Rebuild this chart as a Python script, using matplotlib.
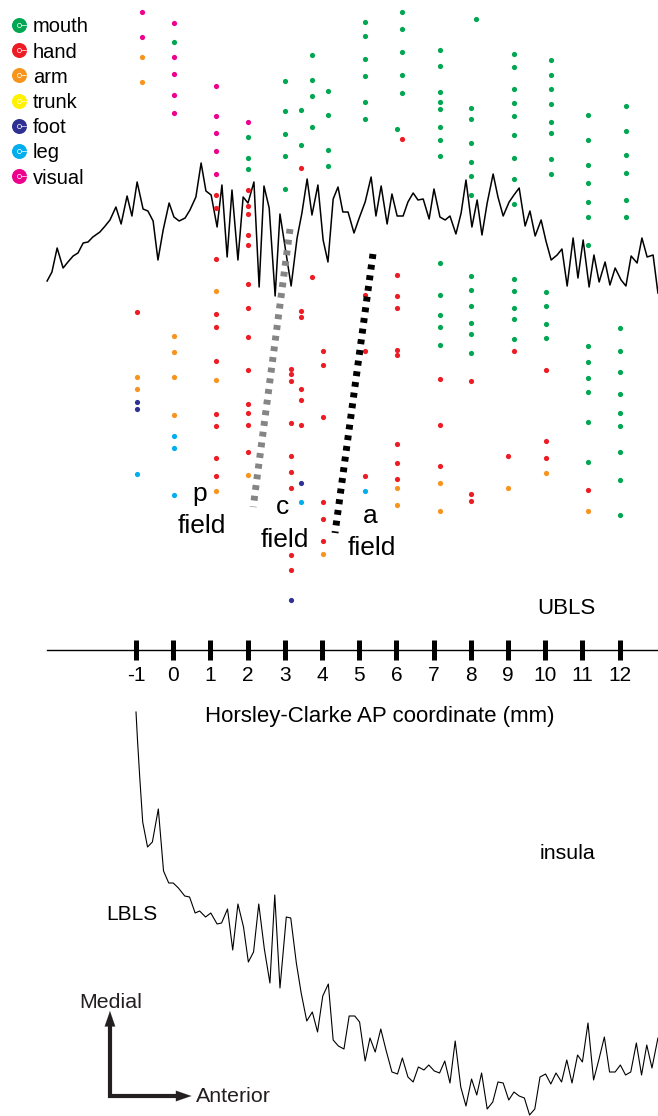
import matplotlib.pyplot as plt

plt.rcParams['font.family'] = ['Liberation Sans', 'DejaVu Sans']
plt.rcParams['axes.unicode_minus'] = False

# AP ticks along the Horsley-Clarke axis (mm)
ap_ticks = list(range(-1, 13))

categories = ['mouth', 'hand', 'arm', 'trunk', 'foot', 'leg', 'visual']
colors = ['#00a651', '#ed1c24', '#f7941d', '#fff200', '#2e3192', '#00aeef', '#ec008c']

# recording sites: AP position of each penetration (mm) and the depths of its sites
# depth is measured downward from the top of the section (arbitrary units)
mouth_ap = [0.02, 2.01, 3.01, 3.44, 3.73, 4.16, 5.16, 6.02, 6.15, 7.17, 8.01, 8.14,
            9.16, 10.02, 10.16, 11.15, 12.17, 12.01]
mouth_depth = [[42], [137, 158, 169], [81, 111, 134, 156, 189], [110, 145],
               [55, 80, 96, 127], [91, 115, 150, 166], [22, 36, 59, 76, 102, 119],
               [129], [12, 29, 52, 75, 93],
               [50, 66, 92, 102, 109, 127, 140, 156, 263, 295, 315, 327, 345],
               [108, 119, 143, 162, 176, 195, 276, 290, 306, 323, 334, 353], [19],
               [54, 67, 89, 103, 116, 135, 158, 179, 204, 279, 291, 308, 319, 339],
               [292, 306, 324, 338], [60, 75, 89, 104, 122, 133, 159, 174],
               [115, 140, 165, 183, 202, 217, 245, 346, 362, 378, 392, 422, 462],
               [106, 131, 155, 173, 200, 217],
               [328, 351, 372, 394, 413, 426, 452, 480, 515]]

hand_ap = [-0.97, 1.15, 2.01, 3.17, 3.44, 3.73, 4.03, 5.16, 6.02, 6.15, 7.17, 8.01,
           9.0, 9.16, 10.02, 11.15]
hand_depth = [[312], [195, 208, 259, 314, 327, 361, 414, 426, 458, 476],
              [190, 206, 214, 235, 245, 284, 308, 337, 370, 404, 413, 425, 452],
              [369, 374, 381, 423, 456, 472, 488, 555, 570],
              [168, 311, 317, 389, 400, 425], [277], [351, 365, 417, 502, 519, 541],
              [295, 351, 476], [275, 296, 308, 350, 355, 444, 463, 479], [139],
              [379, 425, 466], [381, 494, 501], [456], [351], [370, 441, 458], [490]]

arm_ap = [-0.84, -0.97, 0.02, 1.15, 2.01, 4.03, 6.02, 7.17, 9.0, 10.02, 11.15]
arm_depth = [[57, 82], [377, 389], [336, 352, 377, 415], [291, 380, 491], [475],
             [554], [488, 505], [483, 511], [488], [473], [511]]

trunk_ap = []
trunk_depth = []

foot_ap = [-0.97, 3.17, 3.44]
foot_depth = [[402, 409], [600], [483]]

leg_ap = [-0.97, 0.02, 3.44, 5.16]
leg_depth = [[474], [436, 448, 495], [502], [491]]

visual_ap = [-0.84, 0.02, 1.15, 2.01]
visual_depth = [[12, 37], [23, 57, 74, 95, 113], [86, 116, 133, 151, 174], [122]]

site_ap = [mouth_ap, hand_ap, arm_ap, trunk_ap, foot_ap, leg_ap, visual_ap]
site_depth = [mouth_depth, hand_depth, arm_depth, trunk_depth, foot_depth, leg_depth,
              visual_depth]

# upper bank of the lateral sulcus
ubls_ap = [-3.39, -3.26, -3.12, -2.96, -2.83, -2.69, -2.56, -2.42, -2.29, -2.16,
           -1.97, -1.83, -1.70, -1.54, -1.40, -1.24, -1.11, -0.97, -0.81, -0.68,
           -0.54, -0.41, -0.27, -0.11, 0.02, 0.16, 0.32, 0.45, 0.61, 0.75,
           0.88, 1.02, 1.18, 1.31, 1.45, 1.58, 1.74, 1.88, 2.01, 2.17,
           2.31, 2.44, 2.58, 2.74, 2.87, 3.17, 3.33, 3.46, 3.60, 3.73,
           3.89, 4.03, 4.16, 4.30, 4.43, 4.56, 4.70, 4.86, 5.00, 5.16,
           5.32, 5.45, 5.59, 5.75, 5.88, 6.02, 6.18, 6.31, 6.45, 6.58,
           6.72, 6.88, 7.01, 7.17, 7.31, 7.44, 7.60, 7.74, 7.87, 8.03,
           8.17, 8.30, 8.44, 8.60, 8.73, 8.87, 9.03, 9.16, 9.30, 9.46,
           9.59, 9.73, 9.89, 10.02, 10.16, 10.32, 10.45, 10.59, 10.75, 10.88,
           11.02, 11.18, 11.31, 11.45, 11.61, 11.74, 11.88, 12.04, 12.17, 12.31,
           12.47, 12.60, 12.74, 12.90, 13.03]
ubls_depth = [281, 272, 248, 268, 262, 256, 253, 243, 242, 237,
              232, 226, 220, 207, 224, 196, 216, 182, 209, 211,
              221, 260, 230, 203, 217, 221, 218, 210, 197, 163,
              191, 195, 227, 185, 257, 190, 260, 197, 203, 182,
              287, 186, 208, 296, 214, 286, 238, 213, 179, 215,
              185, 240, 262, 199, 187, 212, 212, 233, 218, 202,
              177, 216, 186, 224, 194, 216, 216, 202, 193, 200,
              199, 219, 189, 217, 220, 216, 234, 213, 180, 227,
              200, 235, 203, 174, 197, 216, 202, 195, 188, 226,
              211, 236, 220, 241, 260, 255, 249, 286, 238, 278,
              240, 287, 255, 282, 262, 285, 268, 280, 286, 256,
              263, 238, 257, 255, 293]

# lower bank of the lateral sulcus
lbls_ap = [-1.00, -0.96, -0.90, -0.82, -0.69, -0.56, -0.40, -0.26, -0.12, 0.00,
           0.14, 0.31, 0.44, 0.59, 0.71, 0.87, 1.01, 1.18, 1.30, 1.46,
           1.60, 1.74, 1.89, 2.02, 2.16, 2.30, 2.45, 2.60, 2.73, 2.87,
           3.04, 3.16, 3.31, 3.44, 3.59, 3.74, 3.88, 4.02, 4.17, 4.30,
           4.44, 4.59, 4.73, 4.88, 5.01, 5.16, 5.29, 5.43, 5.58, 5.72,
           5.88, 6.03, 6.16, 6.31, 6.45, 6.59, 6.74, 6.87, 7.02, 7.16,
           7.30, 7.44, 7.58, 7.73, 7.87, 8.02, 8.16, 8.29, 8.44, 8.59,
           8.73, 8.87, 9.02, 9.16, 9.30, 9.44, 9.58, 9.72, 9.86, 10.01,
           10.15, 10.29, 10.44, 10.58, 10.72, 10.87, 11.00, 11.15, 11.30, 11.44,
           11.59, 11.73, 11.88, 12.02, 12.16, 12.30, 12.45, 12.59, 12.73, 12.87,
           13.03]
lbls_depth = [712, 740, 777, 822, 847, 842, 809, 871, 883, 883,
              888, 896, 897, 913, 911, 917, 913, 924, 923, 909,
              950, 904, 927, 962, 952, 904, 949, 983, 895, 988,
              917, 918, 963, 993, 1021, 1012, 1032, 996, 984, 1040,
              1046, 1049, 1016, 1016, 1022, 1061, 1038, 1052, 1029, 1050,
              1072, 1074, 1058, 1077, 1082, 1067, 1070, 1065, 1071, 1073,
              1061, 1083, 1041, 1087, 1106, 1079, 1095, 1073, 1109, 1102,
              1082, 1083, 1100, 1092, 1096, 1098, 1115, 1109, 1077, 1074,
              1084, 1073, 1082, 1060, 1083, 1055, 1062, 1023, 1080, 1060,
              1037, 1072, 1072, 1065, 1075, 1072, 1043, 1075, 1045, 1068,
              1038]

# borders between the p / c / a fields
pc_border_ap = [3.14, 2.15]
pc_border_depth = [229, 507]
ca_border_ap = [5.37, 4.35]
ca_border_depth = [254, 533]

fig = plt.figure(figsize=(6.58, 11.16), dpi=100)
ax = fig.add_axes([0, 0, 1, 1])
ax.set_xlim(-4.656, 13.032)
ax.set_ylim(1116, 0)

# sulcus outlines
ax.plot(ubls_ap, ubls_depth, color='black', lw=1.1, zorder=2)
ax.plot(lbls_ap, lbls_depth, color='black', lw=0.8, zorder=2)

# recording sites, one colour per body part
for aps, depths, col in zip(site_ap, site_depth, colors):
    xs = [a for a, ds in zip(aps, depths) for _ in ds]
    ys = [d for ds in depths for d in ds]
    if xs:
        ax.scatter(xs, ys, s=14, color=col, linewidths=0, zorder=3)

# field borders
ax.plot(pc_border_ap, pc_border_depth, color='#858585', lw=5,
        linestyle=(0, (0.7, 0.85)), solid_capstyle='butt', dash_capstyle='butt', zorder=4)
ax.plot(ca_border_ap, ca_border_depth, color='black', lw=5,
        linestyle=(0, (0.7, 0.85)), solid_capstyle='butt', dash_capstyle='butt', zorder=4)

# AP axis drawn through the middle of the section
for side in ['left', 'right', 'top']:
    ax.spines[side].set_visible(False)
ax.spines['bottom'].set_position(('data', 650))
ax.spines['bottom'].set_bounds(-3.39, 13.03)
ax.spines['bottom'].set_linewidth(1.0)
ax.set_yticks([])
ax.set_xticks(ap_ticks)
ax.tick_params(axis='x', direction='inout', length=14, width=3.6, pad=4.3,
               labelsize=15)
ax.set_xlabel('Horsley-Clarke AP coordinate (mm)', fontsize=16)
ax.xaxis.set_label_coords(0.5775, 0.3674)

# field names
ax.text(0.72, 501, 'p', fontsize=19, ha='center', va='baseline')
ax.text(0.77, 533, 'field', fontsize=19, ha='center', va='baseline')
ax.text(2.95, 514, 'c', fontsize=19, ha='center', va='baseline')
ax.text(3.01, 547, 'field', fontsize=19, ha='center', va='baseline')
ax.text(5.29, 523, 'a', fontsize=19, ha='center', va='baseline')
ax.text(5.34, 555, 'field', fontsize=19, ha='center', va='baseline')

ax.text(10.56, 614, 'UBLS', fontsize=16, ha='center', va='baseline')
ax.text(10.59, 859, 'insula', fontsize=15.4, ha='center', va='baseline')
ax.text(-1.11, 920, 'LBLS', fontsize=15, ha='center', va='baseline')

# orientation arrows
arrow_col = '#231f20'
ax.plot([-1.70, -1.70, 0.08], [1026, 1096, 1096], color=arrow_col, lw=3,
        solid_joinstyle='miter', solid_capstyle='butt', zorder=2)
ax.annotate('', xy=(-1.70, 1011), xytext=(-1.70, 1030),
            arrowprops=dict(arrowstyle='-|>,head_length=1.1,head_width=0.38',
                            mutation_scale=10, color=arrow_col, lw=0.1,
                            shrinkA=0, shrinkB=0))
ax.annotate('', xy=(0.49, 1096), xytext=(0.0, 1096),
            arrowprops=dict(arrowstyle='-|>,head_length=1.1,head_width=0.38',
                            mutation_scale=10, color=arrow_col, lw=0.1,
                            shrinkA=0, shrinkB=0))
ax.text(-1.69, 1008, 'Medial', fontsize=15.4, ha='center', va='baseline',
        color=arrow_col)
ax.text(0.61, 1102, 'Anterior', fontsize=15.4, ha='left', va='baseline',
        color=arrow_col)

# legend of body parts
for i, (cat, col) in enumerate(zip(categories, colors)):
    y = 25 + 25.2 * i
    ax.plot(-4.145, y, 'o', ms=10.8, color=col, mec='none', zorder=5)
    ax.plot(-4.145, y, 'o', ms=3, mfc='none', mec='white', mew=0.5, zorder=6)
    ax.plot([-4.10, -3.96], [y, y], color='white', lw=0.5, zorder=6)
    ax.text(-3.77, y + 7.3, cat, fontsize=14.5, ha='left', va='baseline')

fig.savefig('out.png', dpi=100)
